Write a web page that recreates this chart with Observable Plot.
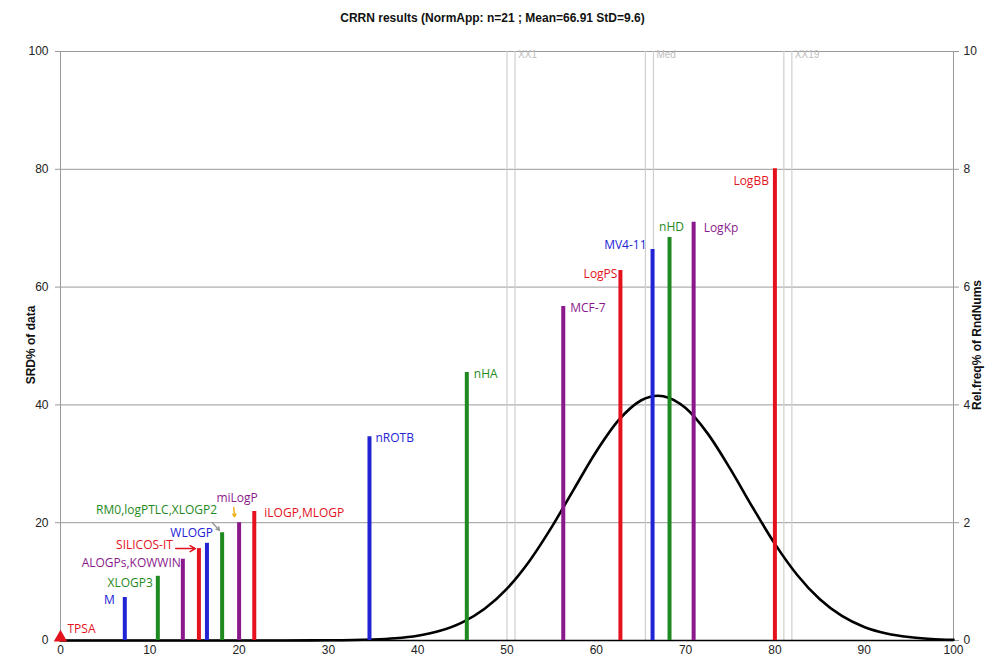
<!DOCTYPE html>
<html>
<head>
<meta charset="utf-8">
<script src="https://cdn.jsdelivr.net/npm/d3@7"></script>
<script src="https://cdn.jsdelivr.net/npm/@observablehq/plot@0.6"></script>
<style>
  html, body { margin: 0; padding: 0; background: #fff; }
  #wrap { position: relative; width: 985px; height: 660px; font-family: "Liberation Sans", Arial, sans-serif; }
  #title { position: absolute; left: 0; top: 11px; width: 985px; text-align: center; font: bold 12px "Liberation Sans", Arial, sans-serif; color: #111; }
  #chart { position: absolute; left: 0; top: 35px; }
  .ylab { position: absolute; font: bold 12px "Liberation Sans", Arial, sans-serif; color: #111; white-space: nowrap; transform: translate(-50%, -50%) rotate(-90deg); }
</style>
</head>
<body>
<div id="wrap">
  <div id="title">CRRN results (NormApp: n=21 ; Mean=66.91 StD=9.6)</div>
  <div id="chart"></div>
  <div class="ylab" style="left:31px; top:345px;">SRD% of data</div>
  <div class="ylab" style="left:977px; top:345px;">Rel.freq% of RndNums</div>
</div>
<script>
// ---- data ----
const names = ["TPSA","M","XLOGP3","ALOGPs,KOWWIN","SILICOS-IT","WLOGP","RM0,logPTLC,XLOGP2","miLogP","iLOGP,MLOGP","nROTB","nHA","MCF-7","LogPS","MV4-11","nHD","LogKp","LogBB"];
const srdX = [0, 7.2, 10.9, 13.7, 15.5, 16.4, 18.1, 20.0, 21.7, 34.6, 45.5, 56.3, 62.7, 66.3, 68.2, 70.9, 80.0];
const srdY = [0, 7.3, 10.9, 13.8, 15.6, 16.5, 18.3, 20.0, 21.9, 34.6, 45.5, 56.7, 62.8, 66.4, 68.4, 71.0, 80.1];
const groups = ["red","blue","green","purple","red","blue","green","purple","red","blue","green","purple","red","blue","green","purple","red"];

const curveX = [0, 10, 20, 25, 30, 35, 37.5, 40, 42.5, 45, 47.5, 50, 52.5, 55, 57.5, 60, 62.5, 65, 66.9, 67.5, 70, 72.5, 75, 77.5, 80, 82.5, 85, 87.5, 90, 92.5, 95, 97.5, 100];
const curveY = [0, 0, 0, 0.0003, 0.003, 0.017, 0.038, 0.082, 0.164, 0.308, 0.538, 0.881, 1.347, 1.925, 2.571, 3.208, 3.740, 4.075, 4.156, 4.148, 3.946, 3.508, 2.914, 2.262, 1.640, 1.112, 0.704, 0.417, 0.230, 0.119, 0.058, 0.026, 0.011];

const refLinesX = [50.0, 50.9, 65.5, 66.4, 81.0, 81.9];
const refNames = ["XX1", "Med", "XX19"];
const refNameX = [50.9, 66.4, 81.9];

const xTicks = [0,10,20,30,40,50,60,70,80,90,100];
const yTicks = [0,20,40,60,80,100];

// ---- styles (not data) ----
const palette = {red: "#e3121d", blue: "#2323d6", green: "#1f8a22", purple: "#8a1a8c"};
// label placement relative to each bar top: [anchor, dx, dy]
const labelPos = [
  ["start", 7, -11], ["end", -10, 3], ["end", -5, 7], ["end", -2, 4], ["end", -26, -3],
  ["end", 6, -10], ["end", -5, -23], ["middle", -2, -25], ["start", 10, 2], ["start", 6, 1],
  ["start", 7, 2], ["start", 7, 2], ["end", -3, 4], ["end", -6, -4], ["middle", 2, -10],
  ["start", 10, 6], ["end", -6, 12]
];

const bars = names.map((n, i) => ({name: n, x: srdX[i], y: srdY[i], g: groups[i]}));
const curve = curveX.map((x, i) => ({x, y: curveY[i] * 10}));
const refs = refNames.map((n, i) => ({name: n, x: refNameX[i]}));

// annotation arrows derived from bars
const bSil = bars[4], bRm = bars[6], bMi = bars[7];
const arrows = [
  {x1: bSil.x - 2.6, y1: bSil.y, x2: bSil.x - 0.4, y2: bSil.y, c: palette.red},
  {x1: bRm.x - 1.1, y1: bRm.y + 1.7, x2: bRm.x - 0.3, y2: bRm.y + 0.4, c: "#999"},
  {x1: bMi.x - 0.6, y1: bMi.y + 2.6, x2: bMi.x - 0.5, y2: bMi.y + 1.0, c: "#f2b21c"}
];

const labelMarks = bars.map((b, i) => Plot.text([b], {
  x: "x", y: "y", text: "name",
  fill: palette[b.g], textAnchor: labelPos[i][0], dx: labelPos[i][1], dy: labelPos[i][2],
  fontSize: 12, fontFamily: "'Open Sans', sans-serif"
}));

const chart = Plot.plot({
  width: 985,
  height: 625,
  marginTop: 16,
  marginBottom: 20,
  marginLeft: 60,
  marginRight: 32,
  style: {fontFamily: "'Liberation Sans', Arial, sans-serif", fontSize: "12px", color: "#222", background: "#fff"},
  x: {domain: [0, 100]},
  y: {domain: [0, 100]},
  marks: [
    Plot.gridY(yTicks.slice(1), {stroke: "#9a9a9a", strokeOpacity: 1, strokeWidth: 1}),
    Plot.ruleX(refLinesX, {stroke: "#cfcfcf", strokeWidth: 1.2}),
    Plot.text(refs, {x: "x", y: 100, text: "name", textAnchor: "start", dx: 3, dy: 3, fill: "#bdbdbd", fontSize: 10}),
    Plot.ruleX([0, 100], {stroke: "#9a9a9a", strokeWidth: 1}),
    Plot.axisY({ticks: yTicks, anchor: "left", tickSize: 5, tickPadding: 7, label: null, stroke: "#9a9a9a", fontSize: 12}),
    Plot.axisY({ticks: yTicks, anchor: "right", tickSize: 5, tickPadding: 5, label: null, tickFormat: d => d / 10, stroke: "#9a9a9a", fontSize: 12}),
    Plot.axisX({ticks: xTicks, tickSize: 0, tickPadding: 5, label: null, fontSize: 12}),
    Plot.ruleY([0], {stroke: "#000", strokeWidth: 1.5}),
    Plot.line(curve, {x: "x", y: "y", stroke: "#000", strokeWidth: 2.6, curve: "monotone-x"}),
    Plot.ruleX(bars.filter(b => b.y > 0), {x: "x", y1: 0, y2: "y", stroke: d => palette[d.g], strokeWidth: 4}),
    Plot.dot(bars.filter(b => b.y === 0), {x: "x", y: "y", symbol: "triangle", r: 5, fill: d => palette[d.g], stroke: "none", dy: -3}),
    Plot.arrow(arrows, {x1: "x1", y1: "y1", x2: "x2", y2: "y2", stroke: d => d.c, strokeWidth: 1.5, headLength: 6}),
    ...labelMarks
  ]
});
document.getElementById("chart").appendChild(chart);
</script>
</body>
</html>
